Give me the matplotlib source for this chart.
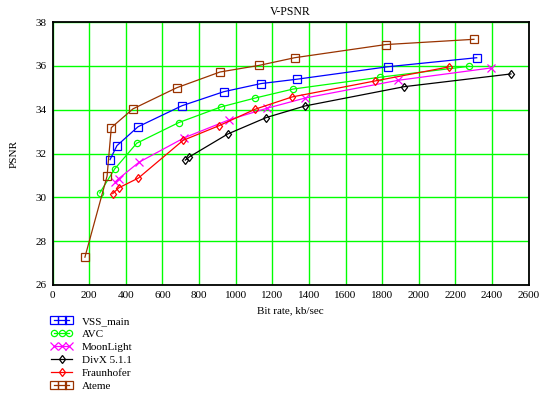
import matplotlib
matplotlib.use("Agg")
import matplotlib.pyplot as plt
from matplotlib.legend_handler import HandlerLine2D

plt.rcParams['font.family'] = ['Liberation Serif', 'DejaVu Serif']

vss_x = [314, 352, 467, 707, 935, 1138, 1335, 1832, 2316]
vss_y = [31.72, 32.36, 33.22, 34.18, 34.82, 35.19, 35.39, 35.96, 36.37]

avc_x = [258, 339, 460, 689, 918, 1106, 1313, 1788, 2274]
avc_y = [30.20, 31.29, 32.47, 33.41, 34.12, 34.53, 34.94, 35.48, 35.98]

moon_x = [343, 361, 472, 720, 965, 1169, 1379, 1887, 2392]
moon_y = [30.71, 30.85, 31.60, 32.72, 33.54, 34.06, 34.53, 35.34, 35.90]

divx_x = [725, 748, 957, 1167, 1379, 1921, 2503]
divx_y = [31.70, 31.85, 32.89, 33.64, 34.17, 35.05, 35.63]

fraun_x = [329, 361, 469, 713, 907, 1106, 1308, 1761, 2164]
fraun_y = [30.17, 30.43, 30.88, 32.60, 33.26, 34.02, 34.58, 35.31, 35.95]

ateme_x = [177, 298, 321, 440, 678, 915, 1128, 1322, 1819, 2301]
ateme_y = [27.27, 30.97, 33.18, 34.04, 35.00, 35.72, 36.02, 36.37, 36.97, 37.21]

x_ticks = list(range(0, 2601, 200))
y_ticks = list(range(26, 39, 2))

W, H = 554, 399
fig = plt.figure(figsize=(W / 100, H / 100), dpi=100)
ax = fig.add_axes([52.5 / W, 1 - 285 / H, (528.7 - 52.5) / W, (285 - 22) / H])

series = [
    ("VSS_main", vss_x, vss_y, '#0000ff', 's', 5.5, 3),
    ("AVC", avc_x, avc_y, '#00ff00', 'o', 4.5, 3),
    ("MoonLight", moon_x, moon_y, '#ff00ff', 'x', 6, 3),
    ("DivX 5.1.1", divx_x, divx_y, '#000000', 'd', 4.5, 1),
    ("Fraunhofer", fraun_x, fraun_y, '#ff0000', 'd', 4.5, 1),
    ("Ateme", ateme_x, ateme_y, '#993300', 's', 5.5, 3),
]

hmap = {}
for name, xs, ys, c, m, ms, npts in series:
    ln, = ax.plot(xs, ys, color=c, lw=0.9, marker=m, markersize=ms,
                  markerfacecolor='none', markeredgecolor=c, markeredgewidth=0.9,
                  label=name, zorder=3)
    hmap[ln] = HandlerLine2D(numpoints=npts)

ax.set_xlim(0, 2600)
ax.set_ylim(26, 38)
ax.set_xticks(x_ticks)
ax.set_yticks(y_ticks)
ax.tick_params(length=0, labelsize=8, pad=4)
ax.grid(True, color='#00ff00', lw=1.0, zorder=1)
for s in ax.spines.values():
    s.set_color('black')
    s.set_linewidth(1.3)

ax.set_title("V-PSNR", fontsize=8.5, pad=5)
ax.set_xlabel("Bit rate, kb/sec", fontsize=8, labelpad=5)
ax.set_ylabel("PSNR", fontsize=8, labelpad=12)

fig.legend(handler_map=hmap, loc='upper left', bbox_to_anchor=(51 / W, 1 - 316 / H),
           frameon=False, fontsize=8, borderpad=0, borderaxespad=0,
           handlelength=1.9, handletextpad=0.9, labelspacing=0.3)

fig.savefig("out.png", dpi=100)
